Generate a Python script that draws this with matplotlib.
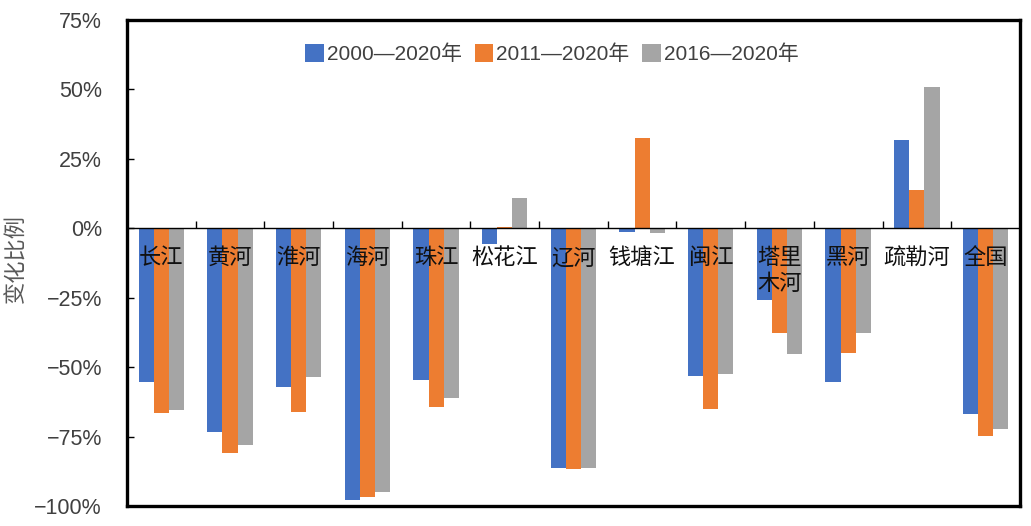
import matplotlib
matplotlib.use("Agg")
import matplotlib.pyplot as plt
from matplotlib import font_manager
from matplotlib.ticker import FuncFormatter, MultipleLocator
import numpy as np


# ---------------------------
# Data
# ---------------------------

rivers = ["长江", "黄河", "淮河", "海河", "珠江", "松花江", "辽河",
          "钱塘江", "闽江", "塔里\n木河", "黑河", "疏勒河", "全国"]

series_names = ["2000—2020年", "2011—2020年", "2016—2020年"]

change_2000 = [-55.5, -73.4, -57.3, -97.7, -54.6, -5.7, -86.2,
               -1.2, -53.2, -25.9, -55.4, 31.8, -66.9]
change_2011 = [-66.5, -81.0, -66.0, -96.8, -64.2, 0.5, -86.8,
               32.6, -65.0, -37.8, -44.8, 13.7, -74.7]
change_2016 = [-65.6, -78.0, -53.7, -95.1, -61.2, 11.0, -86.3,
               -1.7, -52.6, -45.2, -37.8, 51.0, -72.4]

colors = ["#4472C4", "#ED7D31", "#A5A5A5"]


# ---------------------------
# Fonts
# ---------------------------

installed = {f.name for f in font_manager.fontManager.ttflist}
num_font = "Liberation Sans Narrow" if "Liberation Sans Narrow" in installed else "Liberation Sans"
cjk = "Noto Sans CJK SC"
plt.rcParams["font.family"] = [num_font, cjk, "DejaVu Sans"]


# ---------------------------
# Plot
# ---------------------------

fig = plt.figure(figsize=(10.31, 5.26), dpi=100)
ax = fig.add_axes([0.1232, 0.038, 0.866, 0.924])

x = np.arange(len(rivers))
width = 0.22
for k, (vals, name, c) in enumerate(zip([change_2000, change_2011, change_2016],
                                        series_names, colors)):
    ax.bar(x + (k - 1) * width, vals, width, color=c, label=name, zorder=2)

ax.set_xlim(-0.5, len(rivers) - 0.5)
ax.set_ylim(-100, 75)

# zero line with small category ticks
ax.axhline(0, color="black", lw=1.0, zorder=3)
ax.vlines(np.arange(len(rivers) + 1) - 0.5, 0, 2.5, color="black", lw=1.0, zorder=3)

for i, name in enumerate(rivers):
    ax.text(i, -6.5, name, ha="center", va="top", fontsize=16, family=[cjk],
            color="#111111", linespacing=1.15, zorder=4)

ax.set_xticks([])
ax.yaxis.set_major_locator(MultipleLocator(25))
ax.yaxis.set_major_formatter(FuncFormatter(
    lambda v, p: f"{int(v)}%".replace("-", "\u2212")))
ax.tick_params(axis="y", direction="in", length=5, width=1, pad=18,
               labelsize=15.5, labelcolor="#404040")

for s in ax.spines.values():
    s.set_linewidth(2.4)
    s.set_color("black")

ax.set_ylabel("变化比例", family=[cjk], fontsize=16, color="#595959")
ax.yaxis.set_label_coords(-0.111, 0.51)

ax.legend(loc="center", bbox_to_anchor=(552 / 1031, 1 - 54 / 526),
          bbox_transform=fig.transFigure, ncol=3, frameon=False,
          handlelength=0.9, handleheight=0.95,
          handletextpad=0.15, columnspacing=0.6,
          labelcolor="#404040", prop={"family": [num_font, cjk], "size": 15})

fig.savefig("out.png", dpi=100)
